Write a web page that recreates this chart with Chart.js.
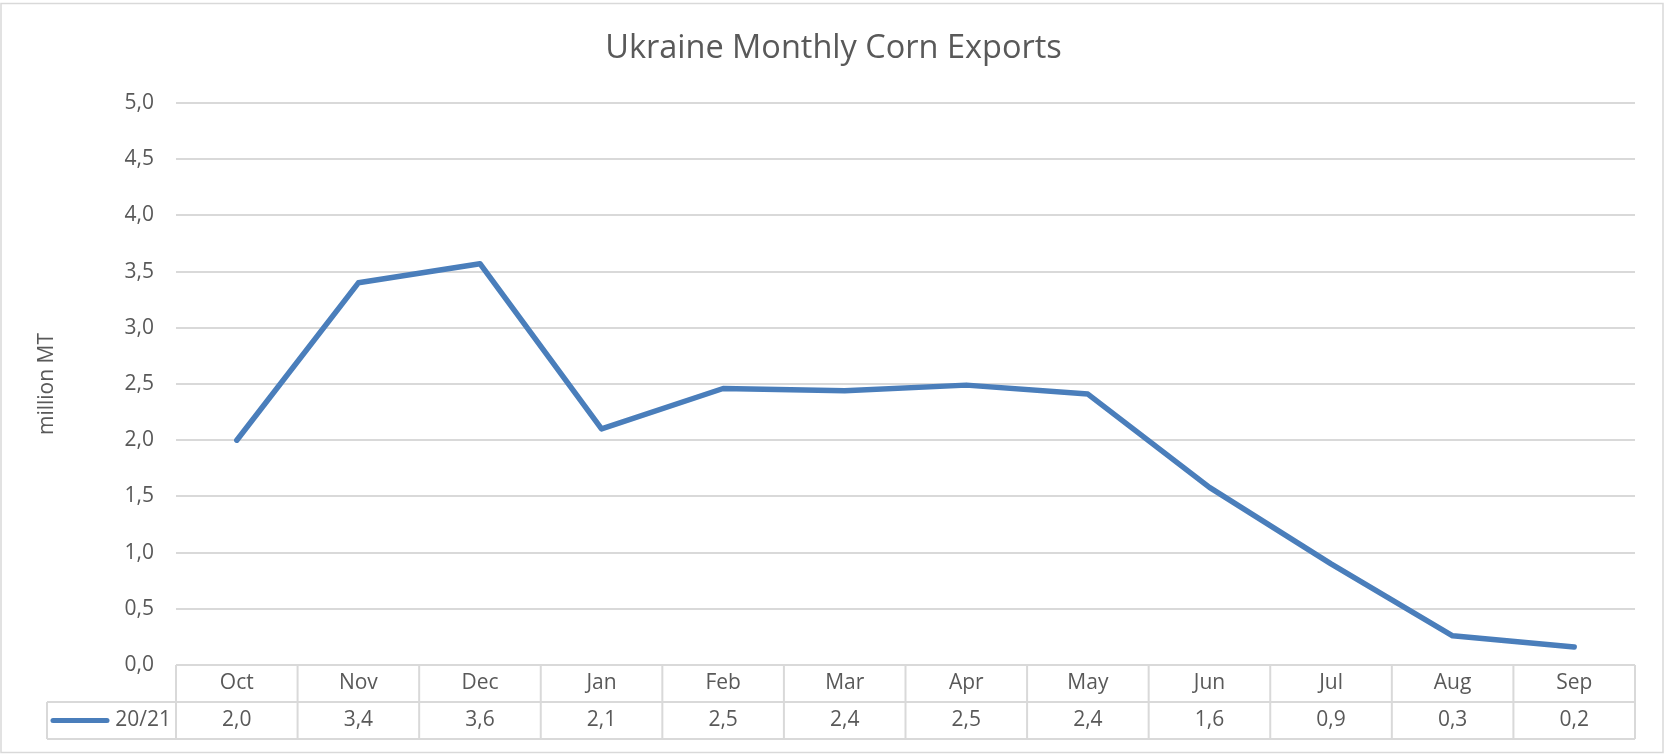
<!DOCTYPE html>
<html>
<head>
<meta charset="utf-8">
<title>Ukraine Monthly Corn Exports</title>
<script src="https://cdn.jsdelivr.net/npm/chart.js@4/dist/chart.umd.min.js"></script>
<style>
  html, body { margin: 0; padding: 0; background: #fff; }
  #wrap { width: 1665px; height: 754px; position: relative; }
</style>
</head>
<body>
<div id="wrap"><canvas id="chart" width="1665" height="754"></canvas></div>
<script>
// ── Data ──────────────────────────────────────────────────────
const months = ["Oct", "Nov", "Dec", "Jan", "Feb", "Mar", "Apr", "May", "Jun", "Jul", "Aug", "Sep"];
const exports2021 = [2.00, 3.40, 3.57, 2.10, 2.46, 2.44, 2.49, 2.41, 1.58, 0.90, 0.26, 0.16];
const seriesName = "20/21";
const chartTitle = "Ukraine Monthly Corn Exports";
const yTicks = [0, 0.5, 1, 1.5, 2, 2.5, 3, 3.5, 4, 4.5, 5];

const BLUE = "#4A7EBB";
const GRID = "#d9d9d9";
const TEXT = "#595959";
const FONT = "'Open Sans', sans-serif";

const fmt = v => v.toFixed(1).replace(".", ",");

// ── Plugins ───────────────────────────────────────────────────

// white page, thin outer frame and the title (centred on the whole canvas)
const frame = {
  id: "frame",
  beforeDraw(chart) {
    const ctx = chart.ctx;
    ctx.save();
    ctx.fillStyle = "#fff";
    ctx.fillRect(0, 0, chart.width, chart.height);
    ctx.strokeStyle = GRID;
    ctx.lineWidth = 1.5;
    ctx.strokeRect(1, 3.5, chart.width - 3, chart.height - 5);

    ctx.fillStyle = TEXT;
    ctx.font = "32.5px " + FONT;
    ctx.textAlign = "center";
    ctx.textBaseline = "middle";
    ctx.fillText(chartTitle, chart.width / 2 + 1, 48.5);
    ctx.restore();
  }
};

// Excel style data table under the plot
const dataTable = {
  id: "dataTable",
  afterDraw(chart) {
    const ctx = chart.ctx;
    const x = chart.scales.x;
    const area = chart.chartArea;
    const rowH = 37;
    const top = area.bottom, mid = top + rowH, bottom = mid + rowH;
    const legendLeft = 47;
    const half = (x.getPixelForValue(1) - x.getPixelForValue(0)) / 2;

    ctx.save();
    ctx.strokeStyle = GRID;
    ctx.lineWidth = 2;
    ctx.beginPath();
    ctx.moveTo(area.left, top);   ctx.lineTo(area.right, top);
    ctx.moveTo(legendLeft, mid);  ctx.lineTo(area.right, mid);
    ctx.moveTo(legendLeft, bottom); ctx.lineTo(area.right, bottom);
    ctx.moveTo(legendLeft, mid);  ctx.lineTo(legendLeft, bottom);
    months.forEach((m, i) => {
      const cx = x.getPixelForValue(i);
      ctx.moveTo(cx - half, top); ctx.lineTo(cx - half, bottom);
    });
    ctx.moveTo(area.right, top); ctx.lineTo(area.right, bottom);
    ctx.stroke();

    ctx.fillStyle = TEXT;
    ctx.font = "21px " + FONT;
    ctx.textAlign = "center";
    ctx.textBaseline = "middle";
    months.forEach((m, i) => {
      const cx = x.getPixelForValue(i);
      ctx.fillText(m, cx, top + rowH / 2);
      ctx.fillText(fmt(exports2021[i]), cx, mid + rowH / 2);
    });

    // legend key
    ctx.strokeStyle = BLUE;
    ctx.lineWidth = 5;
    ctx.lineCap = "round";
    ctx.beginPath();
    ctx.moveTo(53, mid + rowH / 2);
    ctx.lineTo(107, mid + rowH / 2);
    ctx.stroke();
    ctx.textAlign = "right";
    ctx.fillText(seriesName, 171, mid + rowH / 2);
    ctx.restore();
  }
};

// ── Chart ─────────────────────────────────────────────────────

new Chart(document.getElementById("chart"), {
  type: "line",
  data: {
    labels: months,
    datasets: [{
      label: seriesName,
      data: exports2021,
      borderColor: BLUE,
      backgroundColor: BLUE,
      borderWidth: 5.5,
      borderJoinStyle: "round",
      borderCapStyle: "round",
      pointRadius: 0,
      tension: 0,
      fill: false,
    }],
  },
  options: {
    responsive: false,
    animation: false,
    layout: { padding: { left: 0, top: 103, right: 30, bottom: 89 } },
    plugins: {
      legend: { display: false },
      tooltip: { enabled: false },
      title: { display: false },
    },
    scales: {
      x: {
        type: "category",
        offset: true,
        display: false,
      },
      y: {
        min: 0,
        max: 5,
        afterBuildTicks: scale => { scale.ticks = yTicks.map(v => ({ value: v })); },
        afterFit: scale => { scale.width = 176; },
        ticks: {
          color: TEXT,
          padding: 22,
          font: { family: FONT, size: 21 },
          callback: v => fmt(v),
        },
        grid: { color: GRID, lineWidth: 2, drawTicks: false },
        border: { display: false },
        title: {
          display: true,
          text: "million MT",
          color: TEXT,
          font: { family: FONT, size: 21 },
          padding: { top: 34, bottom: 0 },
        },
      },
    },
  },
  plugins: [frame, dataTable],
});
</script>
</body>
</html>
